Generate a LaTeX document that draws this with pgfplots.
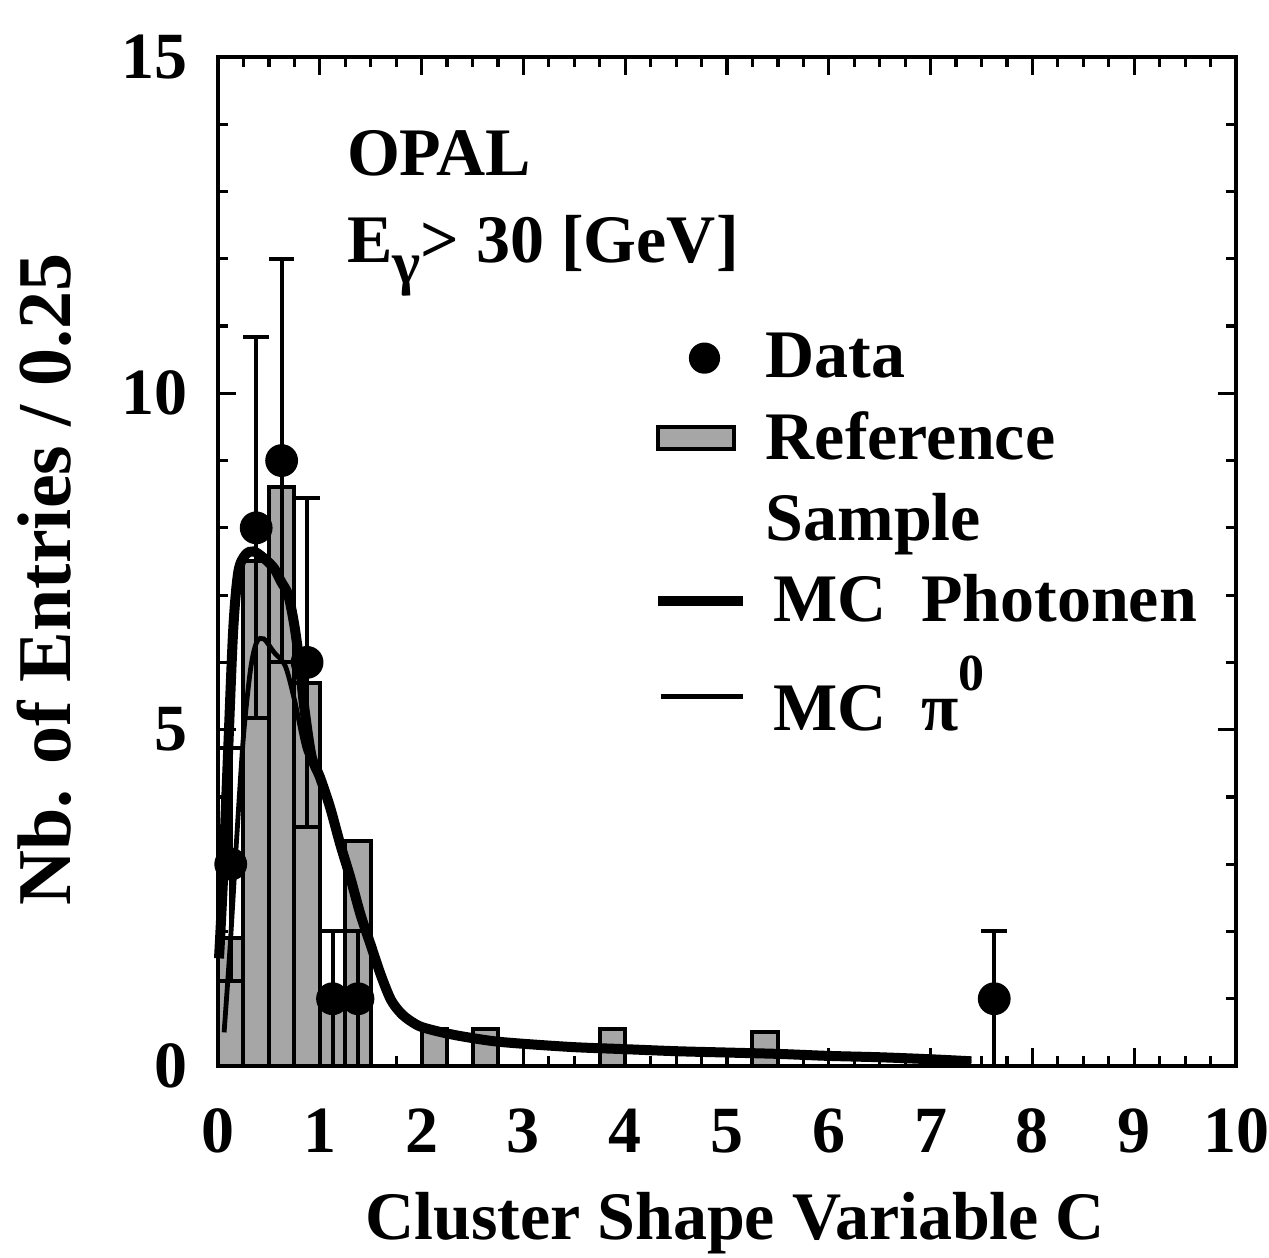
\documentclass[border=0pt]{standalone}
\usepackage{fontspec}
\setmainfont{Liberation Serif}
\usepackage{pgfplots}
\pgfplotsset{compat=1.18}
\begin{document}
\begin{tikzpicture}
\begin{axis}[
  scale only axis,
  width=254.5pt, height=252.25pt,
  xmin=0, xmax=10, ymin=0, ymax=15,
  xtick={0,1,...,10}, ytick={0,5,10,15},
  minor x tick num=3, minor y tick num=4,
  tick align=inside, tick pos=both,
  xticklabel pos=lower, yticklabel pos=left,
  major tick length=4.5pt, minor tick length=2.5pt,
  axis line style={line width=1.2pt},
  every tick/.style={black, line width=0.8pt},
  /pgf/number format/assume math mode=true,
  tick label style={font=\bfseries\fontsize{16.5}{16.5}\selectfont, inner sep=0pt},
  xticklabel style={anchor=base, yshift=-21.5pt},
  yticklabel style={anchor=east, xshift=-7.5pt},
  xlabel={Cluster Shape Variable C},
  ylabel={Nb. of Entries / 0.25},
  xlabel style={at={(axis description cs:0.508,-0.172)}, anchor=base, font=\bfseries\fontsize{17}{17}\selectfont, inner sep=0pt},
  ylabel style={at={(axis description cs:-0.145,0.482)}, anchor=base, rotate=0, font=\bfseries\fontsize{19}{19}\selectfont, inner sep=0pt},
  legend style={at={(axis cs:4.27,11.0)}, anchor=north west, draw=none, fill=none,
    font=\bfseries\fontsize{17}{20.5}\selectfont, row sep=4pt, inner sep=0pt,
    nodes={inner sep=1.5pt}},
  legend cell align=left,
  clip=false,
]
\coordinate (SW) at (rel axis cs:0,0);
\coordinate (NE) at (rel axis cs:1,1);

% legend entries
\addlegendimage{black, legend image code/.code={%
  \path[draw=none] (0cm,0cm) -- (0.78cm,0cm);
  \node[draw=none, circle, fill=black, inner sep=0pt, minimum size=7.8pt] at (0.26cm,0cm) {};}}
\addlegendentry{\hspace{3pt}Data}
\addlegendimage{black, legend image code/.code={%
  \path[draw=none] (0cm,0cm) -- (0.78cm,0cm);
  \draw[black, line width=1pt, fill=black!35] (0cm,-2.75pt) rectangle (0.66cm,2.75pt);}}
\addlegendentry{\hspace{3pt}Reference}
\addlegendimage{empty legend}
\addlegendentry{\hspace{3pt}Sample}
\addlegendimage{black, legend image code/.code={%
  \draw[black, line width=2.5pt] (0cm,0cm) -- (0.74cm,0cm);}}
\addlegendentry{\hspace{5pt}MC\ \ Photonen}
\addlegendimage{black, legend image code/.code={%
  \draw[black, line width=1.2pt] (0.02cm,0cm) -- (0.74cm,0cm);}}
\addlegendentry{\hspace{5pt}MC\ \ π\raisebox{1.3ex}{\fontsize{13}{13}\selectfont 0}}

% reference sample histogram
\addplot[ybar interval, draw=black, line width=1pt, fill=black!35, forget plot] coordinates {
(0.00,1.9) (0.25,7.5) (0.50,8.6) (0.75,5.7) (1.00,1.0) (1.25,3.35)
(1.50,0) (1.75,0) (2.00,0.55) (2.25,0) (2.50,0.55) (2.75,0) (3.00,0)
(3.25,0) (3.50,0) (3.75,0.55) (4.00,0) (4.25,0) (4.50,0) (4.75,0)
(5.00,0) (5.25,0.5) (5.50,0)
};

% MC pi0 (thin)
\addplot[black, line width=1.2pt, smooth, forget plot] coordinates {
(0.06,0.5) (0.12,1.8) (0.18,3.3) (0.25,4.9) (0.32,5.9) (0.38,6.3) (0.45,6.35)
(0.55,6.15) (0.66,5.95) (0.75,5.45) (0.85,4.75) (0.92,4.5) (1.0,4.3)
(1.1,3.85) (1.2,3.3) (1.3,2.8) (1.4,2.25) (1.5,1.8) (1.6,1.35) (1.7,0.98)
(1.8,0.78) (1.9,0.66) (2.0,0.58) (2.2,0.5) (2.4,0.44) (2.7,0.37) (3.0,0.33)
(3.5,0.28) (4.0,0.25) (4.5,0.22) (5.0,0.2) (5.5,0.18) (6.0,0.15) (6.5,0.13)
(7.0,0.1) (7.4,0.07)
};

% MC Photonen (thick)
\addplot[black, line width=2.5pt, smooth, forget plot] coordinates {
(0.01,1.6) (0.05,2.8) (0.10,4.7) (0.15,6.5) (0.20,7.35) (0.27,7.6) (0.35,7.65)
(0.45,7.55) (0.55,7.4) (0.62,7.2) (0.69,7.0) (0.75,6.55) (0.80,6.0) (0.85,5.3)
(0.92,4.6) (1.0,4.3) (1.1,3.85) (1.2,3.3) (1.3,2.8) (1.4,2.25) (1.5,1.8)
(1.6,1.35) (1.7,0.98) (1.8,0.78) (1.9,0.66) (2.0,0.58) (2.2,0.5) (2.4,0.44)
(2.7,0.37) (3.0,0.33) (3.5,0.28) (4.0,0.25) (4.5,0.22) (5.0,0.2) (5.5,0.18)
(6.0,0.15) (6.5,0.13) (7.0,0.1) (7.4,0.07)
};

% data
\addplot[black, only marks, mark=*, mark size=3.9pt, forget plot,
  error bars/.cd, y dir=both, y explicit,
  error bar style={line width=1pt},
  error mark options={line width=1pt, mark size=3.2pt, rotate=90}]
coordinates {
(0.125,3) +- (0,1.73)
(0.375,8) +- (0,2.83)
(0.625,9) +- (0,3.0)
(0.875,6) +- (0,2.45)
(1.125,1) +- (0,1.0)
(1.375,1) +- (0,1.0)
(7.625,1) +- (0,1.0)
};

\node[anchor=base west, font=\bfseries\fontsize{17}{17}\selectfont, inner sep=0pt] at (axis cs:1.26,13.24) {OPAL};
\node[anchor=base west, font=\bfseries\fontsize{17}{17}\selectfont, inner sep=0pt] at (axis cs:1.26,11.95) {E\raisebox{-0.7ex}{\fontsize{15}{15}\selectfont γ}> 30 [GeV]};
\end{axis}
\pgfresetboundingbox
\path[use as bounding box] ([shift={(-54.5pt,-48pt)}]SW) rectangle ([shift={(8.25pt,14.25pt)}]NE);
\end{tikzpicture}
\end{document}
